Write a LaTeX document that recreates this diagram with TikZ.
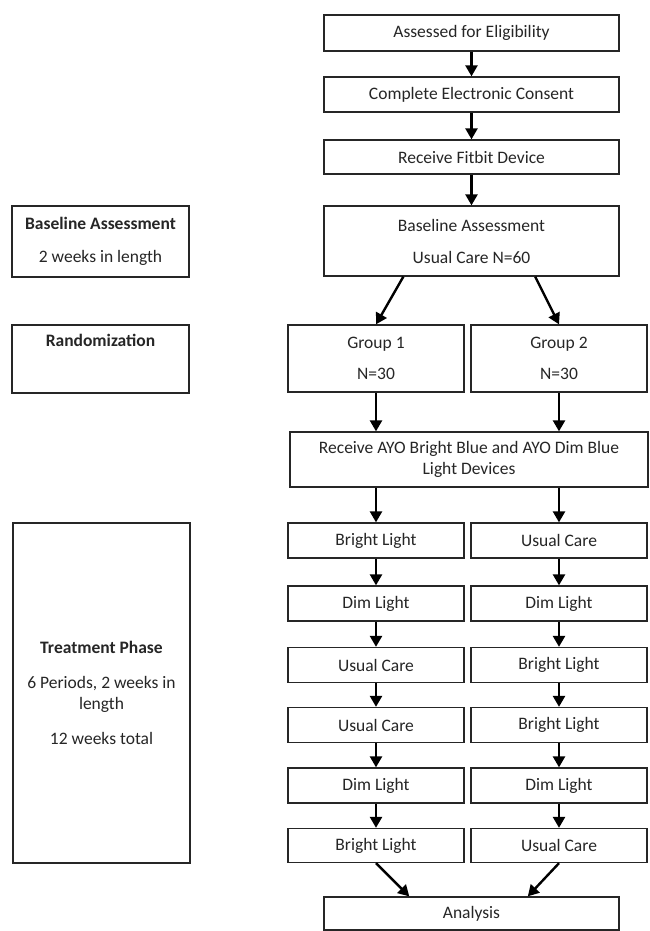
\documentclass[tikz,border=0pt]{standalone}
\usepackage{fontspec}
\setmainfont{Carlito}
\usetikzlibrary{arrows.meta,calc}
\definecolor{ink}{HTML}{262626}
\begin{document}
\begin{tikzpicture}[x=1pt,y=-1pt,
  box/.style={draw=ink, line width=1.3pt, rectangle, inner sep=0pt, align=center,
    text=ink, font=\fontsize{17.5}{21}\selectfont},
  arr/.style={draw=black, line width=2.4pt, -{Triangle[width=12pt,length=11pt]}}]
\useasboundingbox[fill=white] (0,0) rectangle (649,931);
% main column
\node[box, minimum width=295pt, minimum height=36pt] (a1) at (471.5,33) {Assessed for Eligibility};
\node[box, minimum width=295pt, minimum height=35pt] (a2) at (471.5,94.5) {Complete Electronic Consent};
\node[box, minimum width=295pt, minimum height=34pt] (a3) at (471.5,157) {Receive Fitbit Device};
\node[box, minimum width=295pt, minimum height=70pt] (base) at (471.5,241) {Baseline Assessment\\[11pt]Usual Care N=60};
% left column
\node[box, minimum width=177pt, minimum height=71pt] (lb) at (100.5,241.5) {\textbf{Baseline Assessment}\\[12pt]2 weeks in length};
\node[box, minimum width=177pt, minimum height=68pt] (lr) at (100.5,359) {\textbf{Randomization}\\[11pt]\strut};
\node[box, minimum width=177pt, minimum height=340pt] (lt) at (101.5,693) {\textbf{Treatment Phase}\\[14pt]6 Periods, 2 weeks in\\length\\[14pt]12 weeks total};
% groups
\node[box, minimum width=176pt, minimum height=67pt] (g1) at (376,358.5) {Group 1\\[10pt]N=30};
\node[box, minimum width=176pt, minimum height=67pt] (g2) at (559,358.5) {Group 2\\[10pt]N=30};
\node[box, minimum width=358pt, minimum height=55pt] (ayo) at (469,459.5) {Receive AYO Bright Blue and AYO Dim Blue\\Light Devices};
% rows
\node[box, minimum width=176pt, minimum height=35pt] (r1a) at (376,540.5) {Bright Light};
\node[box, minimum width=176pt, minimum height=35pt] (r1b) at (559,540.5) {Usual Care};
\node[box, minimum width=176pt, minimum height=35pt] (r2a) at (376,603.5) {Dim Light};
\node[box, minimum width=176pt, minimum height=35pt] (r2b) at (559,603.5) {Dim Light};
\node[box, minimum width=176pt, minimum height=35pt] (r3a) at (376,665) {Usual Care};
\node[box, minimum width=176pt, minimum height=35pt] (r3b) at (559,665) {Bright Light};
\node[box, minimum width=176pt, minimum height=35pt] (r4a) at (376,725) {Usual Care};
\node[box, minimum width=176pt, minimum height=35pt] (r4b) at (559,725) {Bright Light};
\node[box, minimum width=176pt, minimum height=35pt] (r5a) at (376,785.5) {Dim Light};
\node[box, minimum width=176pt, minimum height=35pt] (r5b) at (559,785.5) {Dim Light};
\node[box, minimum width=176pt, minimum height=34pt] (r6a) at (376,845.5) {Bright Light};
\node[box, minimum width=176pt, minimum height=34pt] (r6b) at (559,845.5) {Usual Care};
\node[box, minimum width=295pt, minimum height=33pt] (ana) at (471.5,913.5) {Analysis};
% arrows
\draw[arr] (a1.south) -- (a2.north);
\draw[arr] (a2.south) -- (a3.north);
\draw[arr] (a3.south) -- (base.north);
\draw[arr] ($(base.south west)!0.27!(base.south east)$) -- (g1.north);
\draw[arr] ($(base.south west)!0.715!(base.south east)$) -- (g2.north);
\draw[arr] (g1.south) -- (g1.south |- ayo.north);
\draw[arr] (g2.south) -- (g2.south |- ayo.north);
\draw[arr] (r1a.north |- ayo.south) -- (r1a.north);
\draw[arr] (r1b.north |- ayo.south) -- (r1b.north);
\draw[arr] (r1a.south) -- (r2a.north);
\draw[arr] (r1b.south) -- (r2b.north);
\draw[arr] (r2a.south) -- (r3a.north);
\draw[arr] (r2b.south) -- (r3b.north);
\draw[arr] (r3a.south) -- (r4a.north);
\draw[arr] (r3b.south) -- (r4b.north);
\draw[arr] (r4a.south) -- (r5a.north);
\draw[arr] (r4b.south) -- (r5b.north);
\draw[arr] (r5a.south) -- (r6a.north);
\draw[arr] (r5b.south) -- (r6b.north);
\draw[arr] (r6a.south) -- ($(ana.north west)!0.29!(ana.north east)$);
\draw[arr] (r6b.south) -- ($(ana.north west)!0.69!(ana.north east)$);
\end{tikzpicture}
\end{document}
